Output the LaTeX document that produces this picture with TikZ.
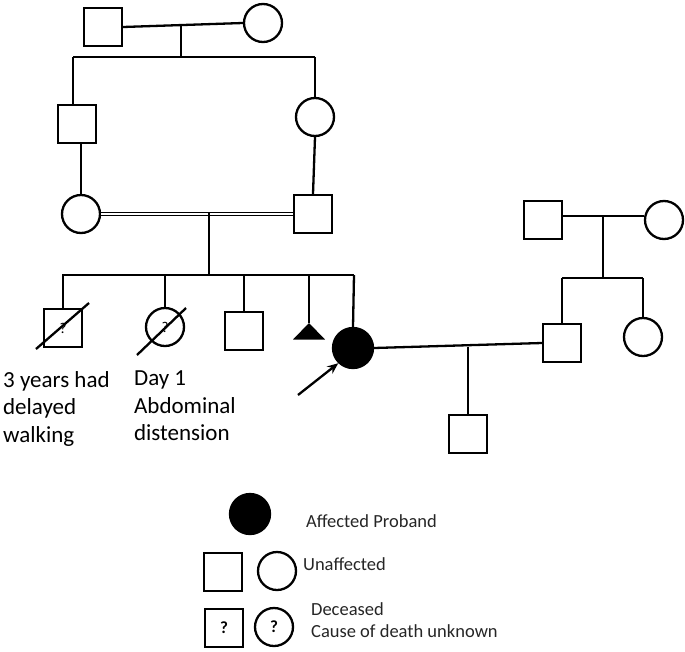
\documentclass[tikz,border=0pt]{standalone}
\usepackage{fontspec}
\setmainfont{Carlito}
\usetikzlibrary{arrows.meta}
\begin{document}
\begin{tikzpicture}[x=1pt,y=-1pt,
  line width=2.3pt,
  male/.style={draw,rectangle,minimum size=38pt,inner sep=0pt},
  female/.style={draw,circle,minimum size=38pt,inner sep=0pt},
  affected/.style={fill=black},
  qmark/.style={inner sep=0pt,font=\fontsize{15}{15}\selectfont},
  note/.style={align=left,anchor=north west,font=\fontsize{23}{27.5}\selectfont,inner sep=0pt},
  legtext/.style={align=left,anchor=base west,font=\fontsize{18.5}{22}\selectfont,inner sep=0pt,text=black!85},
  slash/.style={line width=2.3pt}]
\useasboundingbox[fill=white] (0,0) rectangle (685,651);

% generation I
\node[male] (gf) at (103,27) {};
\node[female] (gm) at (263,23) {};
\coordinate (m1) at (181,25);
\coordinate (s1) at (181,57);
\coordinate (s1L) at (73,57);
\coordinate (s1R) at (315,57);
\draw (gf.east) -- (gm.west);
\draw (m1) -- (s1);
\draw (s1L) -- (s1R);

% generation II
\node[male] (u1) at (77,124) {};
\node[female] (a1) at (315,117) {};
\node[female] (mo) at (81,214) {};
\node[male] (fa) at (313,214) {};
\draw (s1L) -- (s1L |- u1.north);
\draw (s1R) -- (a1.north);
\draw (u1.south -| mo.north) -- (mo.north);
\draw (a1.south) -- (fa.north);
\draw[double,line width=1.6pt,double distance=1.2pt] (mo.east) -- (fa.west);
\coordinate (m2) at (209,212);
\coordinate (s2) at (209,275);
\coordinate (s2L) at (62,275);
\coordinate (s2R) at (354,275);
\draw (m2) -- (s2);
\draw (s2L) -- (s2R);

% generation III
\node[male] (c1) at (63,328) {};
\node[qmark] (q1) at (c1.center) {?};
\node[female] (c2) at (165,327) {};
\node[qmark] (q2) at (c2.center) {?};
\node[male] (c3) at (244,331) {};
\coordinate (c4) at (309,323);
\fill (c4) -- ++(-16,16.5) -- ++(32,0) -- cycle;
\node[female,affected,minimum size=40pt] (pro) at (353,348) {};
\coordinate (d1) at (63,275);
\coordinate (d2) at (165,275);
\coordinate (d3) at (244,275);
\coordinate (d4) at (309,275);
\coordinate (d5) at (354,275);
\draw (d1) -- (c1.north);
\draw (d2) -- (c2.north);
\draw (d3) -- (c3.north);
\draw (d4) -- (c4);
\draw (d5) -- (pro.north);
\coordinate (x1a) at (36,349);
\coordinate (x1b) at (89,303);
\draw[slash] (x1a) -- (x1b);
\coordinate (x2a) at (137,355);
\coordinate (x2b) at (186,308);
\draw[slash] (x2a) -- (x2b);
\coordinate (arrtail) at (298,395);
\draw[-{Stealth[length=11pt,width=9pt]},line width=2.3pt] (arrtail) -- (pro.226);

\node[note] (t1) at (2,370) {3 years had\\delayed\\walking};
\node[note] (t2) at (133,370) {Day 1\\Abdominal\\distension};

% spouse family
\node[male] (hf) at (543,220) {};
\node[female] (hm) at (664,220) {};
\coordinate (m4) at (603,216);
\coordinate (s4) at (603,278);
\draw (hf.east |- m4) -- (hm.west |- m4);
\draw (m4) -- (s4);
\node[male] (hus) at (562,343) {};
\node[female] (hs) at (643,337) {};
\coordinate (s4L) at (562,278);
\coordinate (s4R) at (643,278);
\draw (s4L) -- (s4R);
\draw (s4L) -- (hus.north);
\draw (s4R) -- (hs.north);
\draw (pro.east) -- (hus.west);
\coordinate (m3) at (468,347);
\node[male] (son) at (468,434) {};
\draw (m3) -- (son.north);

% legend
\node[female,affected,minimum size=40pt] (L1) at (250,514) {};
\node[legtext] (L1t) at (305,527) {Affected Proband};
\node[male] (L2a) at (223,572) {};
\node[female] (L2b) at (277,571) {};
\node[legtext] (L2t) at (302,570) {Unaffected};
\node[male] (L3a) at (224,628) {\fontsize{17}{17}\selectfont\bfseries ?};
\node[female] (L3b) at (274,627) {\fontsize{17}{17}\selectfont\bfseries ?};
\node[legtext] (L3t) at (310,615) {Deceased};
\node[legtext] (L3u) at (310,637) {Cause of death unknown};
\end{tikzpicture}
\end{document}
